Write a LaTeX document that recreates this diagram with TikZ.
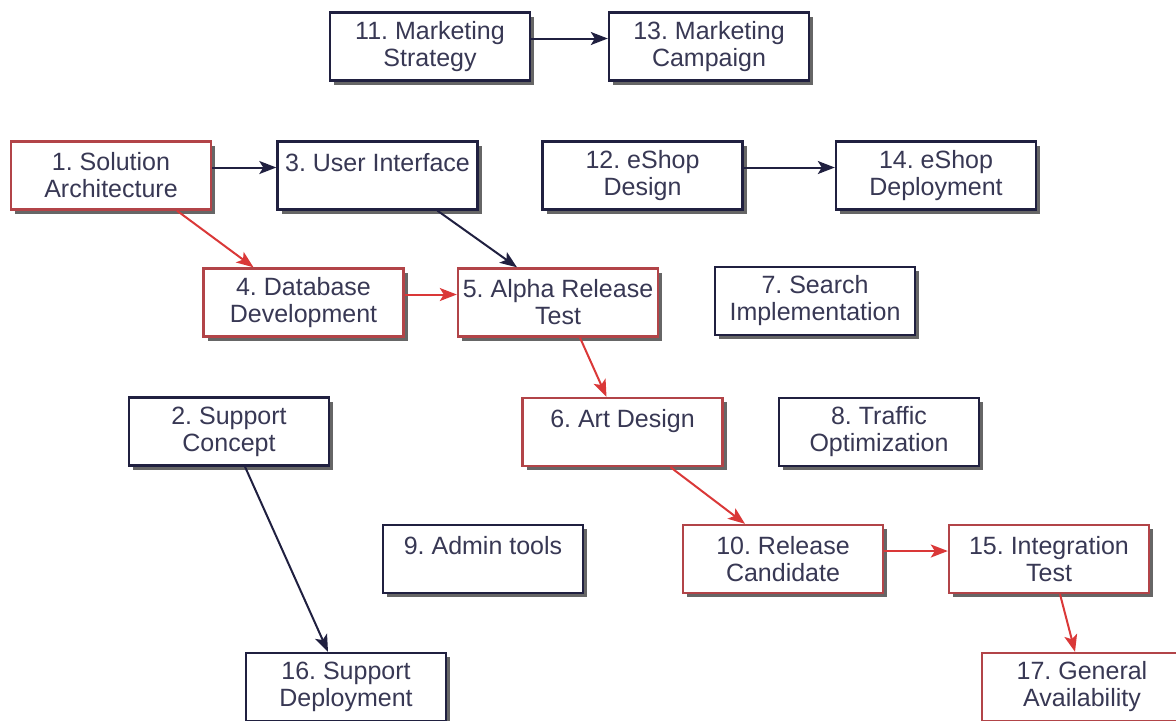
\documentclass[tikz,border=0pt]{standalone}
\usepackage{fontspec}
\setmainfont{Liberation Sans}
\usetikzlibrary{arrows.meta,shadows}
\definecolor{ink}{RGB}{56,56,84}
\definecolor{navy}{RGB}{32,32,64}
\definecolor{critbox}{RGB}{178,68,72}
\definecolor{critarr}{RGB}{218,56,56}
\frenchspacing

\begin{document}
\begin{tikzpicture}[
  x=0.5pt, y=-0.5pt,
  font=\fontsize{12.5}{13.5}\selectfont,
  task/.style={draw=navy, line width=1.2pt, fill=white, text=ink, align=center, minimum width=100pt, minimum height=34pt, inner sep=2pt, drop shadow={shadow xshift=2pt, shadow yshift=-2pt, fill=black!75, opacity=0.8}},
  crit/.style={task, draw=critbox},
  arr/.style={-{Stealth[length=8.5pt,width=6.5pt,inset=2pt]}, line width=1pt, navy},
  carr/.style={arr, critarr},
]
\useasboundingbox (0,0) rectangle (1176,720);
\clip (0,0) rectangle (1176,720);
% marketing
\node[task] (mstrat) at (430,46.5) {11. Marketing\\Strategy};
\node[task] (mcamp) at (709,46.5) {13. Marketing\\Campaign};
% row 2
\node[crit] (arch) at (111,175.5) {1. Solution\\Architecture};
\node[task] (ui) at (377.5,175.5) {3. User Interface\\\mbox{}};
\node[task] (eshopd) at (642.5,175.5) {12. eShop\\Design};
\node[task] (eshopdep) at (936,175.5) {14. eShop\\Deployment};
% row 3
\node[crit] (db) at (303.5,302.5) {4. Database\\Development};
\node[crit] (alpha) at (558,302.5) {5. Alpha Release\\Test};
\node[task] (search) at (815,301) {7. Search\\Implementation};
% row 4
\node[task] (supc) at (229,431.5) {2. Support\\Concept};
\node[crit] (art) at (622.5,432) {6. Art Design\\\mbox{}};
\node[task] (traffic) at (879,432) {8. Traffic\\Optimization};
% row 5
\node[task] (admin) at (483,559) {9. Admin tools\\\mbox{}};
\node[crit] (rc) at (783,559) {10. Release\\Candidate};
\node[crit] (integ) at (1049,559) {15. Integration\\Test};
% row 6
\node[task] (supdep) at (346,687) {16. Support\\Deployment};
\node[crit] (ga) at (1082,687) {17. General\\Availability};
% links
\draw[arr] ([yshift=4pt]mstrat.east) -- ([yshift=4pt]mcamp.west);
\draw[arr] ([yshift=4pt]arch.east) -- ([yshift=4pt]ui.west);
\draw[arr] ([yshift=4pt]eshopd.east) -- ([yshift=4pt]eshopdep.west);
\draw[arr] ([xshift=30pt]ui.south) -- ([xshift=-20.5pt]alpha.north);
\draw[arr] ([xshift=8pt]supc.south) -- ([xshift=-9pt]supdep.north);
% critical path
\draw[carr] ([xshift=33pt]arch.south) -- ([xshift=-25pt]db.north);
\draw[carr] ([yshift=4pt]db.east) -- ([yshift=4pt]alpha.west);
\draw[carr] ([xshift=11pt]alpha.south) -- ([xshift=-8pt]art.north);
\draw[carr] ([xshift=24pt]art.south) -- ([xshift=-19pt]rc.north);
\draw[carr] ([yshift=4pt]rc.east) -- ([yshift=4pt]integ.west);
\draw[carr] ([xshift=5.5pt]integ.south) -- ([xshift=-3.5pt]ga.north);
\end{tikzpicture}
\end{document}
